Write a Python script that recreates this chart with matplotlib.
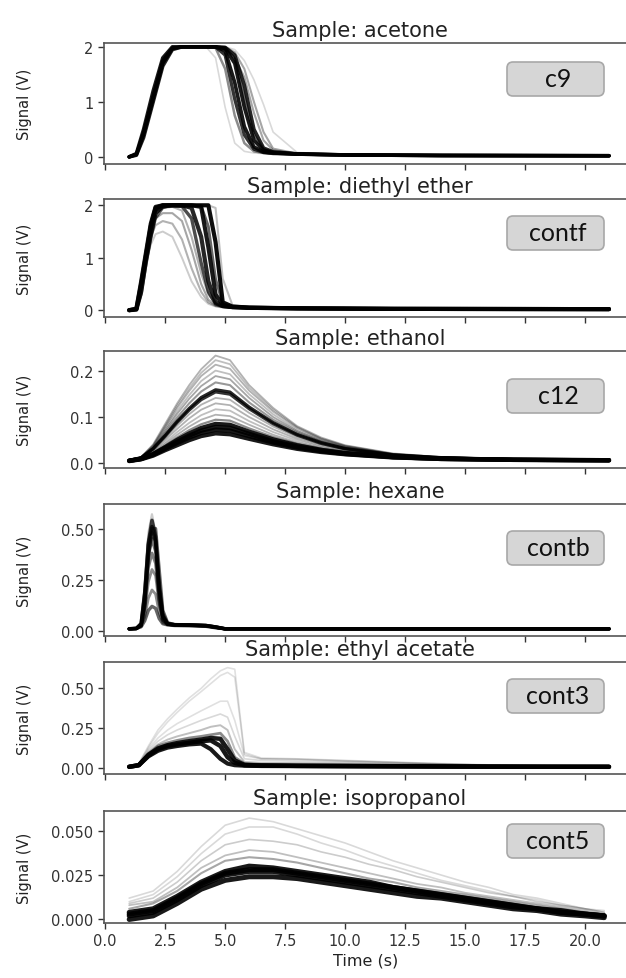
import matplotlib
matplotlib.use("Agg")
import matplotlib.pyplot as plt
from matplotlib.patches import FancyBboxPatch
from matplotlib.transforms import IdentityTransform

# ---- data ----
samples = ["acetone", "diethyl ether", "ethanol", "hexane", "ethyl acetate", "isopropanol"]
sensors = ["c9", "contf", "c12", "contb", "cont3", "cont5"]
x_ticks = [0.0, 2.5, 5.0, 7.5, 10.0, 12.5, 15.0, 17.5, 20.0]

t_acetone = [1.0, 1.3, 1.6, 2.0, 2.4, 2.8, 3.2, 4.2, 4.6, 5.0, 5.4, 5.8, 6.2, 6.6, 7.0, 8.0, 10.0, 14.0, 21.0]
acetone = [
    [0.0, 0.04, 0.40, 1.05, 1.70, 1.97, 2.0, 2.0, 2.0, 1.97, 1.70, 0.90, 0.30, 0.12, 0.08, 0.05, 0.035, 0.025, 0.02],
    [0.0, 0.06, 0.50, 1.20, 1.80, 2.00, 2.0, 2.0, 2.0, 1.93, 1.35, 0.55, 0.18, 0.09, 0.07, 0.05, 0.035, 0.025, 0.02],
    [0.0, 0.03, 0.35, 1.00, 1.65, 1.95, 2.0, 2.0, 2.0, 1.99, 1.85, 1.30, 0.50, 0.16, 0.09, 0.055, 0.035, 0.025, 0.02],
    [0.0, 0.05, 0.45, 1.10, 1.75, 1.98, 2.0, 2.0, 2.0, 1.85, 1.05, 0.40, 0.14, 0.08, 0.06, 0.05, 0.035, 0.025, 0.02],
    [0.0, 0.05, 0.45, 1.15, 1.75, 1.98, 2.0, 2.0, 1.98, 1.60, 0.75, 0.25, 0.10, 0.07, 0.06, 0.045, 0.035, 0.025, 0.02],
    [0.0, 0.06, 0.50, 1.20, 1.80, 2.00, 2.0, 2.0, 1.80, 0.90, 0.25, 0.10, 0.07, 0.06, 0.05, 0.04, 0.03, 0.025, 0.02],
    [0.0, 0.04, 0.40, 1.05, 1.70, 1.97, 2.0, 2.0, 2.0, 2.00, 1.90, 1.60, 1.00, 0.45, 0.15, 0.06, 0.04, 0.025, 0.02],
    [0.0, 0.05, 0.45, 1.10, 1.75, 1.98, 2.0, 2.0, 2.0, 2.00, 1.95, 1.75, 1.40, 0.95, 0.45, 0.08, 0.04, 0.025, 0.02],
    [0.0, 0.05, 0.45, 1.10, 1.75, 1.98, 2.0, 2.0, 2.0, 1.98, 1.80, 1.45, 0.80, 0.30, 0.12, 0.06, 0.04, 0.025, 0.02],
    [0.0, 0.04, 0.42, 1.08, 1.72, 1.97, 2.0, 2.0, 2.0, 1.99, 1.78, 1.10, 0.40, 0.14, 0.08, 0.05, 0.035, 0.025, 0.02],
]

t_ether = [1.0, 1.3, 1.5, 1.7, 1.9, 2.1, 2.4, 2.8, 3.2, 3.6, 4.0, 4.3, 4.6, 4.9, 5.3, 6.0, 8.0, 12.0, 21.0]
ether = [
    [0.0, 0.02, 0.50, 1.05, 1.60, 1.95, 2.00, 2.00, 2.00, 2.00, 2.00, 2.00, 1.30, 0.15, 0.07, 0.05, 0.035, 0.025, 0.02],
    [0.0, 0.03, 0.55, 1.10, 1.65, 1.97, 2.00, 2.00, 2.00, 2.00, 1.97, 1.20, 0.30, 0.10, 0.06, 0.045, 0.035, 0.025, 0.02],
    [0.0, 0.01, 0.35, 0.95, 1.45, 1.85, 1.98, 2.00, 2.00, 1.95, 1.40, 0.55, 0.15, 0.08, 0.06, 0.045, 0.035, 0.025, 0.02],
    [0.0, 0.02, 0.45, 1.00, 1.55, 1.90, 2.00, 2.00, 1.98, 1.75, 0.90, 0.35, 0.12, 0.07, 0.05, 0.045, 0.035, 0.025, 0.02],
    [0.0, 0.02, 0.40, 1.00, 1.50, 1.90, 2.00, 2.00, 2.00, 2.00, 2.00, 2.00, 1.95, 0.60, 0.10, 0.05, 0.035, 0.025, 0.02],
    [0.0, 0.02, 0.45, 1.00, 1.50, 1.75, 1.85, 1.85, 1.70, 1.15, 0.50, 0.20, 0.09, 0.06, 0.05, 0.04, 0.03, 0.025, 0.02],
    [0.0, 0.01, 0.40, 0.90, 1.25, 1.45, 1.50, 1.40, 1.00, 0.55, 0.25, 0.12, 0.07, 0.05, 0.045, 0.04, 0.03, 0.025, 0.02],
    [0.0, 0.02, 0.50, 1.05, 1.55, 1.85, 1.95, 1.97, 1.90, 1.40, 0.70, 0.30, 0.12, 0.07, 0.05, 0.04, 0.03, 0.025, 0.02],
    [0.0, 0.02, 0.45, 0.95, 1.40, 1.62, 1.70, 1.65, 1.35, 0.80, 0.35, 0.15, 0.08, 0.06, 0.05, 0.04, 0.03, 0.025, 0.02],
    [0.0, 0.01, 0.30, 0.85, 1.35, 1.75, 1.95, 2.00, 2.00, 2.00, 1.99, 1.60, 0.60, 0.12, 0.06, 0.045, 0.035, 0.025, 0.02],
]

t_ethanol = [1.0, 1.5, 2.0, 2.5, 3.0, 3.5, 4.0, 4.6, 5.2, 6.0, 7.0, 8.0, 9.0, 10.0, 12.0, 14.0, 17.0, 21.0]
ethanol = [
    [0.005, 0.012, 0.040, 0.085, 0.130, 0.170, 0.205, 0.235, 0.225, 0.170, 0.120, 0.080, 0.055, 0.038, 0.020, 0.012, 0.008, 0.007],
    [0.005, 0.012, 0.038, 0.081, 0.125, 0.163, 0.197, 0.225, 0.216, 0.164, 0.116, 0.078, 0.053, 0.037, 0.019, 0.012, 0.008, 0.007],
    [0.005, 0.012, 0.037, 0.078, 0.120, 0.157, 0.190, 0.215, 0.206, 0.158, 0.112, 0.076, 0.052, 0.036, 0.019, 0.012, 0.008, 0.007],
    [0.005, 0.011, 0.035, 0.074, 0.113, 0.148, 0.179, 0.202, 0.194, 0.150, 0.106, 0.072, 0.050, 0.035, 0.018, 0.011, 0.008, 0.006],
    [0.005, 0.011, 0.033, 0.070, 0.107, 0.140, 0.168, 0.190, 0.183, 0.142, 0.100, 0.069, 0.048, 0.034, 0.018, 0.011, 0.008, 0.006],
    [0.005, 0.011, 0.032, 0.065, 0.099, 0.130, 0.156, 0.176, 0.170, 0.132, 0.094, 0.066, 0.046, 0.032, 0.017, 0.011, 0.007, 0.006],
    [0.005, 0.011, 0.031, 0.060, 0.091, 0.119, 0.143, 0.160, 0.155, 0.122, 0.088, 0.062, 0.044, 0.031, 0.017, 0.011, 0.007, 0.006],
    [0.005, 0.010, 0.030, 0.058, 0.088, 0.115, 0.138, 0.155, 0.150, 0.118, 0.085, 0.060, 0.042, 0.030, 0.016, 0.010, 0.007, 0.006],
    [0.005, 0.010, 0.028, 0.054, 0.081, 0.106, 0.127, 0.142, 0.138, 0.109, 0.079, 0.056, 0.040, 0.029, 0.016, 0.010, 0.007, 0.006],
    [0.005, 0.010, 0.026, 0.050, 0.074, 0.097, 0.116, 0.130, 0.126, 0.100, 0.073, 0.052, 0.037, 0.027, 0.015, 0.010, 0.007, 0.006],
    [0.004, 0.009, 0.024, 0.045, 0.067, 0.087, 0.104, 0.117, 0.114, 0.091, 0.067, 0.048, 0.034, 0.025, 0.014, 0.009, 0.007, 0.006],
    [0.004, 0.009, 0.022, 0.041, 0.061, 0.079, 0.094, 0.105, 0.102, 0.083, 0.061, 0.044, 0.032, 0.024, 0.014, 0.009, 0.007, 0.006],
    [0.004, 0.008, 0.020, 0.037, 0.055, 0.071, 0.084, 0.094, 0.092, 0.075, 0.056, 0.041, 0.030, 0.022, 0.013, 0.009, 0.006, 0.005],
    [0.004, 0.008, 0.019, 0.034, 0.050, 0.064, 0.076, 0.085, 0.083, 0.068, 0.051, 0.038, 0.028, 0.021, 0.013, 0.009, 0.006, 0.005],
    [0.004, 0.008, 0.018, 0.032, 0.046, 0.059, 0.070, 0.078, 0.076, 0.063, 0.047, 0.035, 0.026, 0.020, 0.012, 0.008, 0.006, 0.005],
    [0.004, 0.008, 0.017, 0.030, 0.043, 0.055, 0.065, 0.072, 0.070, 0.058, 0.044, 0.033, 0.025, 0.019, 0.012, 0.008, 0.006, 0.005],
    [0.003, 0.007, 0.015, 0.027, 0.038, 0.049, 0.058, 0.064, 0.062, 0.052, 0.040, 0.030, 0.023, 0.018, 0.011, 0.008, 0.006, 0.005],
]

t_hexane = [1.0, 1.3, 1.5, 1.65, 1.8, 1.95, 2.1, 2.25, 2.4, 2.6, 2.9, 3.5, 4.2, 4.6, 5.0, 8.0, 14.0, 21.0]
hexane = [
    [0.01, 0.012, 0.040, 0.22, 0.48, 0.57, 0.48, 0.22, 0.080, 0.035, 0.030, 0.030, 0.027, 0.020, 0.01, 0.01, 0.01, 0.01],
    [0.01, 0.012, 0.035, 0.19, 0.43, 0.54, 0.46, 0.21, 0.072, 0.034, 0.030, 0.029, 0.026, 0.019, 0.01, 0.01, 0.01, 0.01],
    [0.01, 0.012, 0.035, 0.18, 0.42, 0.51, 0.44, 0.20, 0.070, 0.034, 0.030, 0.029, 0.026, 0.019, 0.01, 0.01, 0.01, 0.01],
    [0.01, 0.011, 0.025, 0.12, 0.36, 0.50, 0.50, 0.30, 0.100, 0.040, 0.030, 0.029, 0.026, 0.019, 0.01, 0.01, 0.01, 0.01],
    [0.01, 0.011, 0.028, 0.14, 0.38, 0.48, 0.44, 0.24, 0.085, 0.036, 0.030, 0.029, 0.026, 0.019, 0.01, 0.01, 0.01, 0.01],
    [0.01, 0.012, 0.030, 0.16, 0.37, 0.45, 0.39, 0.17, 0.060, 0.033, 0.029, 0.028, 0.025, 0.018, 0.01, 0.01, 0.01, 0.01],
    [0.01, 0.012, 0.028, 0.13, 0.31, 0.38, 0.33, 0.15, 0.055, 0.032, 0.028, 0.027, 0.024, 0.017, 0.01, 0.01, 0.01, 0.01],
    [0.01, 0.012, 0.025, 0.10, 0.24, 0.30, 0.27, 0.13, 0.050, 0.031, 0.027, 0.026, 0.023, 0.016, 0.01, 0.01, 0.01, 0.01],
    [0.01, 0.012, 0.022, 0.07, 0.16, 0.20, 0.18, 0.09, 0.040, 0.030, 0.026, 0.025, 0.022, 0.015, 0.01, 0.01, 0.01, 0.01],
    [0.01, 0.012, 0.020, 0.05, 0.10, 0.12, 0.11, 0.06, 0.035, 0.029, 0.026, 0.025, 0.022, 0.015, 0.01, 0.01, 0.01, 0.01],
]

t_ethyl = [1.0, 1.4, 1.8, 2.2, 2.6, 3.0, 3.5, 4.0, 4.4, 4.8, 5.1, 5.4, 5.8, 6.5, 8.0, 10.0, 13.0, 16.0, 21.0]
ethyl = [
    [0.01, 0.030, 0.140, 0.240, 0.310, 0.370, 0.440, 0.500, 0.560, 0.610, 0.630, 0.620, 0.100, 0.065, 0.060, 0.050, 0.035, 0.022, 0.012],
    [0.01, 0.030, 0.130, 0.220, 0.290, 0.350, 0.420, 0.480, 0.530, 0.580, 0.600, 0.570, 0.090, 0.060, 0.058, 0.048, 0.033, 0.020, 0.012],
    [0.01, 0.028, 0.120, 0.190, 0.240, 0.280, 0.320, 0.360, 0.390, 0.420, 0.420, 0.300, 0.080, 0.060, 0.055, 0.045, 0.032, 0.020, 0.012],
    [0.01, 0.025, 0.110, 0.170, 0.210, 0.240, 0.270, 0.300, 0.320, 0.340, 0.320, 0.200, 0.060, 0.050, 0.045, 0.040, 0.030, 0.020, 0.012],
    [0.01, 0.024, 0.100, 0.150, 0.180, 0.200, 0.220, 0.240, 0.260, 0.270, 0.240, 0.120, 0.040, 0.035, 0.033, 0.030, 0.025, 0.018, 0.011],
    [0.01, 0.022, 0.090, 0.140, 0.160, 0.175, 0.190, 0.200, 0.210, 0.220, 0.170, 0.070, 0.030, 0.025, 0.022, 0.020, 0.017, 0.014, 0.010],
    [0.01, 0.020, 0.085, 0.125, 0.145, 0.158, 0.170, 0.180, 0.190, 0.185, 0.120, 0.050, 0.022, 0.018, 0.016, 0.015, 0.013, 0.011, 0.010],
    [0.01, 0.020, 0.080, 0.120, 0.140, 0.150, 0.160, 0.170, 0.175, 0.140, 0.070, 0.035, 0.020, 0.018, 0.016, 0.015, 0.013, 0.011, 0.010],
    [0.01, 0.020, 0.075, 0.110, 0.130, 0.140, 0.150, 0.155, 0.120, 0.060, 0.030, 0.020, 0.017, 0.015, 0.014, 0.013, 0.012, 0.010, 0.010],
]

t_iso = [1.0, 2.0, 3.0, 4.0, 5.0, 6.0, 7.0, 8.0, 9.0, 10.0, 11.0, 12.0, 13.0, 14.0, 15.0, 16.0, 17.0, 18.0, 19.0, 20.0, 20.8]
iso = [
    [0.012, 0.016, 0.027, 0.041, 0.053, 0.057, 0.055, 0.051, 0.047, 0.043, 0.038, 0.033, 0.029, 0.025, 0.021, 0.018, 0.014, 0.012, 0.009, 0.006, 0.005],
    [0.010, 0.014, 0.024, 0.037, 0.048, 0.052, 0.052, 0.048, 0.043, 0.039, 0.034, 0.030, 0.026, 0.022, 0.019, 0.016, 0.013, 0.011, 0.008, 0.006, 0.004],
    [0.009, 0.012, 0.021, 0.033, 0.042, 0.045, 0.044, 0.042, 0.038, 0.035, 0.031, 0.028, 0.024, 0.021, 0.018, 0.015, 0.013, 0.010, 0.008, 0.006, 0.004],
    [0.008, 0.010, 0.018, 0.029, 0.036, 0.039, 0.038, 0.035, 0.032, 0.029, 0.026, 0.023, 0.020, 0.018, 0.015, 0.013, 0.011, 0.009, 0.007, 0.005, 0.003],
    [0.006, 0.009, 0.016, 0.026, 0.033, 0.035, 0.034, 0.032, 0.029, 0.026, 0.023, 0.021, 0.018, 0.016, 0.014, 0.012, 0.010, 0.008, 0.006, 0.004, 0.003],
    [0.004, 0.006, 0.013, 0.021, 0.027, 0.030, 0.029, 0.027, 0.025, 0.023, 0.021, 0.018, 0.016, 0.014, 0.012, 0.010, 0.008, 0.006, 0.005, 0.003, 0.002],
    [0.003, 0.005, 0.012, 0.020, 0.026, 0.028, 0.028, 0.026, 0.024, 0.022, 0.020, 0.018, 0.016, 0.014, 0.012, 0.010, 0.008, 0.006, 0.004, 0.003, 0.002],
    [0.002, 0.004, 0.011, 0.019, 0.025, 0.027, 0.027, 0.025, 0.023, 0.021, 0.019, 0.017, 0.015, 0.013, 0.011, 0.009, 0.007, 0.006, 0.004, 0.003, 0.002],
    [0.000, 0.002, 0.009, 0.017, 0.022, 0.024, 0.024, 0.023, 0.021, 0.019, 0.017, 0.015, 0.013, 0.012, 0.010, 0.008, 0.006, 0.005, 0.003, 0.002, 0.001],
]

y_ticks = [[0, 1, 2], [0, 1, 2], [0.0, 0.1, 0.2], [0.0, 0.25, 0.50], [0.0, 0.25, 0.50], [0.0, 0.025, 0.050]]
y_fmt = ["%d", "%d", "%.1f", "%.2f", "%.2f", "%.3f"]
y_lims = [(-0.13, 2.07), (-0.13, 2.12), (-0.012, 0.245), (-0.025, 0.62), (-0.035, 0.665), (-0.002, 0.061)]

# line styles (alpha, linewidth) per curve
styles = [
    [(0.9, 2.6), (0.9, 2.6), (0.85, 2.6), (0.8, 2.4), (0.45, 1.8), (0.15, 1.2), (0.35, 1.5), (0.15, 1.2), (0.35, 1.5), (0.6, 2.0)],
    [(0.95, 3.0), (0.9, 3.0), (0.85, 3.0), (0.7, 2.4), (0.25, 1.5), (0.35, 1.5), (0.2, 1.4), (0.3, 1.5), (0.3, 1.5), (0.6, 2.0)],
    [(0.3, 1.3), (0.25, 1.3), (0.3, 1.3), (0.25, 1.3), (0.35, 1.3), (0.4, 1.5), (0.85, 2.2), (0.8, 2.2),
     (0.3, 1.3), (0.3, 1.3), (0.25, 1.3), (0.3, 1.3), (0.45, 1.6), (0.9, 3.0), (0.9, 3.2), (0.9, 3.2), (0.9, 3.0)],
    [(0.2, 1.6), (0.75, 2.6), (0.75, 2.6), (0.6, 2.4), (0.6, 2.4), (0.55, 2.4), (0.5, 2.2), (0.45, 2.0), (0.45, 2.0), (0.6, 2.4)],
    [(0.12, 1.2), (0.12, 1.2), (0.12, 1.2), (0.15, 1.2), (0.25, 1.4), (0.45, 2.0), (0.9, 3.2), (0.9, 3.2), (0.9, 3.0)],
    [(0.15, 1.2), (0.15, 1.2), (0.2, 1.2), (0.25, 1.3), (0.35, 1.5), (0.9, 3.6), (0.9, 3.6), (0.9, 3.6), (0.9, 3.6)],
]

times = [t_acetone, t_ether, t_ethanol, t_hexane, t_ethyl, t_iso]
curves = [acetone, ether, ethanol, hexane, ethyl, iso]

# ---- layout (pixels of the 626x979 canvas) ----
W, H = 626, 979
ax_left, ax_right = 104, 627
ax_tops = [44, 200, 352, 505, 663, 812]
ax_bottoms = [165, 318, 469, 637, 775, 924]
box_tops = [63, 217, 380, 532, 680, 825]
box_h = 34

plt.rcParams['font.family'] = ['DejaVu Sans']
fig = plt.figure(figsize=(W / 100, H / 100), dpi=100)

for i in range(6):
    top, bot = ax_tops[i], ax_bottoms[i]
    ax = fig.add_axes([ax_left / W, 1 - bot / H, (ax_right - ax_left) / W, (bot - top) / H])
    for y, (a, lw) in zip(curves[i], styles[i]):
        ax.plot(times[i], y, color='black', alpha=a, lw=lw, solid_capstyle='round')
    ax.set_xlim(-0.05, 21.75)
    ax.set_ylim(*y_lims[i])
    ax.set_xticks(x_ticks)
    ax.set_yticks(y_ticks[i])
    ax.set_yticklabels([y_fmt[i] % v for v in y_ticks[i]])
    ax.tick_params(labelsize=10.5, colors='#333333', length=4, width=1)
    if i < 5:
        ax.set_xticklabels([])
    else:
        ax.set_xticklabels(["%.1f" % v for v in x_ticks])
        ax.set_xlabel("Time (s)", fontsize=11.5, color='#222222', labelpad=3)
    ax.set_ylabel("Signal (V)", fontsize=10.5, color='#222222')
    ax.yaxis.set_label_coords(-72 / (ax_right - ax_left), 0.5)
    ax.spines['right'].set_visible(False)
    for s in ['left', 'top', 'bottom']:
        ax.spines[s].set_color('#555555')
        ax.spines[s].set_linewidth(1.2)
    ax.set_title("Sample: " + samples[i], fontsize=15, color='#222222',
                 x=(360 - ax_left) / (ax_right - ax_left), pad=5)

    # sensor tag box on the right
    bx, by = 507, H - box_tops[i] - box_h
    fig.add_artist(FancyBboxPatch((bx, by), 97, box_h,
                                  boxstyle="round,pad=0,rounding_size=6",
                                  transform=IdentityTransform(),
                                  facecolor='#d6d6d6', edgecolor='#a8a8a8', lw=1.2))
    fig.text(bx + 51, by + box_h / 2, sensors[i], transform=IdentityTransform(),
             ha='center', va='center', fontsize=18, family=['Lato', 'DejaVu Sans'], color='#111111')

fig.savefig("out.png", dpi=100)
